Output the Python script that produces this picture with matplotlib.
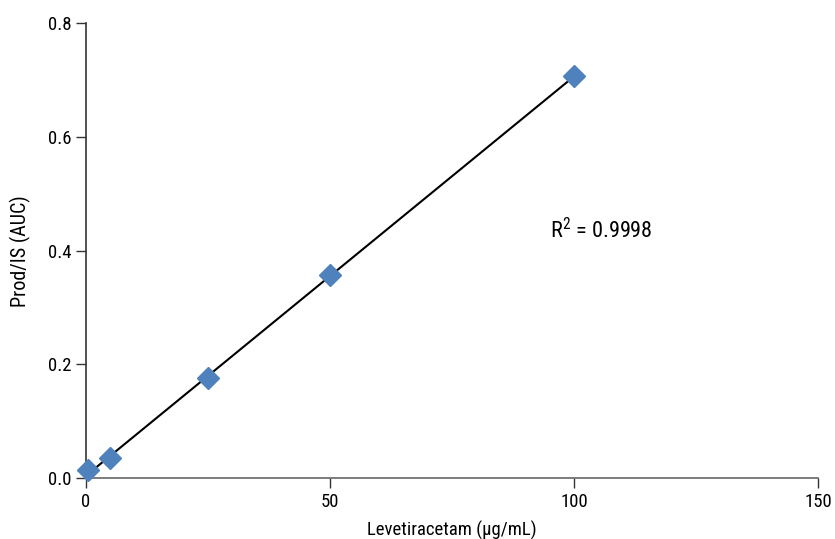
import matplotlib
matplotlib.use("Agg")
import matplotlib.pyplot as plt
import numpy as np
from matplotlib import font_manager

names = {f.name for f in font_manager.fontManager.ttflist}
main = 'Roboto'
for cand in ['Liberation Sans Narrow', 'Roboto Condensed', 'Open Sans Condensed', 'Noto Sans Condensed']:
    if cand in names:
        main = cand
        break
plt.rcParams['font.family'] = [main, 'DejaVu Sans']
plt.rcParams['mathtext.fontset'] = 'custom'
plt.rcParams['mathtext.rm'] = main
plt.rcParams['mathtext.it'] = main

conc = [0.5, 5, 25, 50, 100]
ratio = [0.014, 0.035, 0.176, 0.357, 0.707]
x_ticks = [0, 50, 100, 150]
y_ticks = [0.0, 0.2, 0.4, 0.6, 0.8]
r2_text = r"R$^{\mathrm{2}}$ = 0.9998"

fig = plt.figure(figsize=(8.35, 5.39), dpi=100)
ax = fig.add_axes([0.103, 0.113, 0.877, 0.844])

slope, intercept = np.polyfit(conc, ratio, 1)
xl = np.array([0, max(conc)])
ax.plot(xl, slope * xl + intercept, color='black', lw=1.5, zorder=2)
ax.plot(conc, ratio, linestyle='none', marker='D', ms=11, color='#4f81bd',
        markeredgecolor='#4f81bd', zorder=3, clip_on=False)

ax.set_xlim(0, 150)
ax.set_ylim(0, 0.8)
ax.set_xticks(x_ticks)
ax.set_xticklabels([str(v) for v in x_ticks])
ax.set_yticks(y_ticks)
ax.set_yticklabels([f"{v:.1f}" for v in y_ticks])
for s in ['top', 'right']:
    ax.spines[s].set_visible(False)
ax.spines['left'].set_color('#333333')
ax.spines['bottom'].set_color('#666666')
ax.spines['left'].set_linewidth(1.2)
ax.spines['bottom'].set_linewidth(1.2)
ax.tick_params(axis='both', direction='out', length=7, width=1.0, colors='#333333',
               labelsize=13.5, labelcolor='black')
ax.set_xlabel("Levetiracetam (\u00b5g/mL)", fontsize=13.5, labelpad=7)
ax.set_ylabel("Prod/IS (AUC)", fontsize=14.5, labelpad=12)
ax.text(105.5, 0.436, r2_text, fontsize=16, ha='center', va='center')

fig.savefig("out.png", dpi=100)
